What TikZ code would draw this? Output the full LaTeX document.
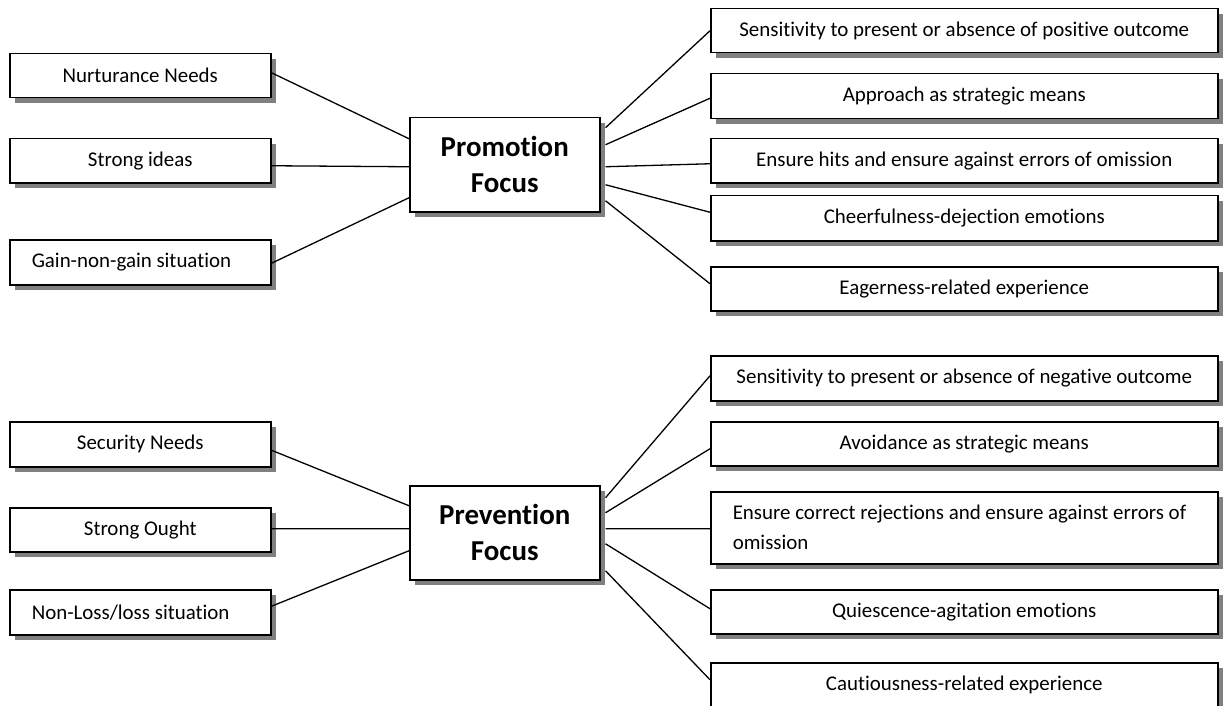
\documentclass[tikz,border=0pt]{standalone}
\usepackage{fontspec}
\setmainfont{Carlito}[Ligatures=NoCommon]
\usetikzlibrary{shadows}
\tikzset{
  box/.style={draw=black, line width=1.5bp, fill=white, inner sep=0pt, anchor=north west,
    font=\fontsize{21}{30}\selectfont,
    drop shadow={shadow xshift=5bp, shadow yshift=-5bp, fill=black!50, opacity=1}},
  sidebox/.style={box, minimum width=261bp},
  outbox/.style={box, minimum width=507bp},
  leftbox/.style={box, text width=217bp, inner xsep=22bp, align=flush left},
  focusbox/.style={box, minimum width=190bp, minimum height=94bp, align=center,
    font=\fontsize{29}{36}\selectfont\bfseries},
  link/.style={draw=black, line width=1.3bp},
}
\begin{document}
\begin{tikzpicture}[x=1bp, y=-1bp]
\useasboundingbox (0,0) rectangle (1225,706);
% Promotion
\node[sidebox, minimum height=44bp] (nur) at (9,53) {Nurturance Needs};
\node[sidebox, minimum height=44bp] (si) at (9,138) {Strong ideas};
\node[leftbox, minimum height=45bp] (gain) at (9,239) {Gain-non-gain situation};
\node[focusbox] (prom) at (409,117) {Promotion\\Focus};
\node[outbox, minimum height=44bp] (r1) at (710,8) {Sensitivity to present or absence of positive outcome};
\node[outbox, minimum height=45bp] (r2) at (710,73) {Approach as strategic means};
\node[outbox, minimum height=44bp] (r3) at (710,138) {Ensure hits and ensure against errors of omission};
\node[outbox, minimum height=45bp] (r4) at (710,195) {Cheerfulness-dejection emotions};
\node[outbox, minimum height=44bp] (r5) at (710,266) {Eagerness-related experience};
% Prevention
\node[sidebox, minimum height=45bp] (sec) at (9,421) {Security Needs};
\node[sidebox, minimum height=44bp] (ought) at (9,507) {Strong Ought};
\node[leftbox, minimum height=45bp] (nonloss) at (9,589) {Non-Loss/loss situation};
\node[focusbox] (prev) at (409,485) {Prevention\\Focus};
\node[outbox, minimum height=45bp] (q1) at (710,355) {Sensitivity to present or absence of negative outcome};
\node[outbox, minimum height=44bp] (q2) at (710,421) {Avoidance as strategic means};
\node[box, text width=463bp, inner xsep=22bp, align=flush left, minimum height=72bp] (q3) at (710,491) {Ensure correct rejections and ensure against errors of\\omission};
\node[outbox, minimum height=44bp] (q4) at (710,589) {Quiescence-agitation emotions};
\node[outbox, minimum height=44bp] (q5) at (710,662) {Cautiousness-related experience};
% links promotion
\draw[link] ([yshift=3bp]nur.east) -- ([yshift=26bp]prom.west);
\draw[link] ([yshift=-5bp]si.east) -- ([yshift=-2bp]prom.west);
\draw[link] ([yshift=-1bp]gain.east) -- ([yshift=-33bp]prom.west);
\draw[link] ([xshift=5bp,yshift=37bp]prom.east) -- (r1.west);
\draw[link] ([xshift=5bp,yshift=20bp]prom.east) -- ([yshift=-2bp]r2.west);
\draw[link] ([xshift=5bp,yshift=-2bp]prom.east) -- ([yshift=-3bp]r3.west);
\draw[link] ([xshift=5bp,yshift=-20bp]prom.east) -- ([yshift=6bp]r4.west);
\draw[link] ([xshift=5bp,yshift=-36bp]prom.east) -- ([yshift=5bp]r5.west);
% links prevention
\draw[link] ([yshift=-6bp]sec.east) -- ([yshift=27bp]prev.west);
\draw[link] ([yshift=1bp]ought.east) -- ([yshift=4bp]prev.west);
\draw[link] ([yshift=6bp]nonloss.east) -- ([yshift=-18bp]prev.west);
\draw[link] ([xshift=5bp,yshift=35bp]prev.east) -- ([yshift=2.5bp]q1.west);
\draw[link] ([xshift=5bp,yshift=20bp]prev.east) -- ([yshift=-5bp]q2.west);
\draw[link] ([xshift=5bp,yshift=4bp]prev.east) -- ([yshift=-1bp]q3.west);
\draw[link] ([xshift=5bp,yshift=-11bp]prev.east) -- ([yshift=3bp]q4.west);
\draw[link] ([xshift=5bp,yshift=-38bp]prev.east) -- ([yshift=5bp]q5.west);
\end{tikzpicture}
\end{document}
